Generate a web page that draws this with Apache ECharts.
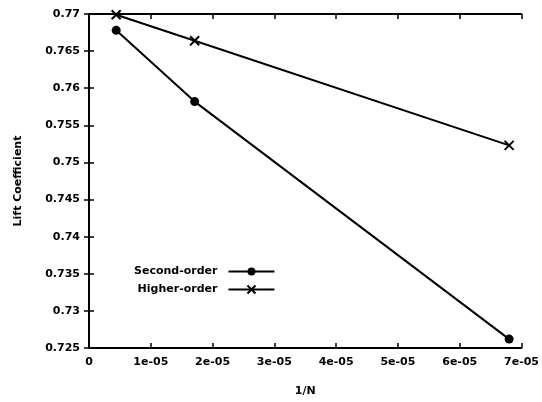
<!DOCTYPE html>
<html><head><meta charset="utf-8">
<script src="https://cdn.jsdelivr.net/npm/echarts@6/dist/echarts.min.js"></script>
<style>html,body{margin:0;padding:0;background:#fff}#c{width:542px;height:402px}</style>
</head><body><div id="c"></div>
<script>
var invN = [4.4e-6, 1.71e-5, 6.8e-5];
var secondOrder = [0.7678, 0.7582, 0.7262];
var higherOrder = [0.7699, 0.7664, 0.7523];
var xTickLabels = ['0','1e-05','2e-05','3e-05','4e-05','5e-05','6e-05','7e-05'];
var yTickLabels = ['0.725','0.73','0.735','0.74','0.745','0.75','0.755','0.76','0.765','0.77'];

var crossPath = 'path://M0,0 L10,10 M10,0 L0,10 M0,0 L10,10 Z';
function pts(ys){ return invN.map(function(x,i){return [x, ys[i]];}); }
var font = {fontFamily:'DejaVu Sans', fontSize:11, fontWeight:'bold', color:'#000'};
var chart = echarts.init(document.getElementById('c'));
var axLine = {show:true, lineStyle:{color:'#000', width:2}};
var tick = {show:true, inside:true, length:5, lineStyle:{color:'#000', width:1.5}};
chart.setOption({
  animation:false,
  grid:{left:89, right:20, top:14, bottom:54, containLabel:false},
  xAxis:[{
    type:'value', min:0, max:7e-5, interval:1e-5, position:'bottom',
    axisLine:axLine, axisTick:tick, splitLine:{show:false},
    axisLabel:Object.assign({margin:9, formatter:function(v){return xTickLabels[Math.round(v/1e-5)];}}, font),
    name:'1/N', nameLocation:'middle', nameGap:38, nameTextStyle:font
  },{
    type:'value', min:0, max:7e-5, interval:1e-5, position:'top',
    axisLine:axLine, axisTick:tick, splitLine:{show:false}, axisLabel:{show:false}
  }],
  yAxis:[{
    type:'value', min:0.725, max:0.77, interval:0.005, position:'left',
    axisLine:axLine, axisTick:tick, splitLine:{show:false},
    axisLabel:Object.assign({margin:9, formatter:function(v){return yTickLabels[Math.round((v-0.725)/0.005)];}}, font),
    name:'Lift Coefficient', nameLocation:'middle', nameGap:65, nameRotate:90, nameTextStyle:font
  },{
    type:'value', min:0.725, max:0.77, interval:0.005, position:'right',
    axisLine:axLine, axisTick:tick, splitLine:{show:false}, axisLabel:{show:false}
  }],
  legend:{
    orient:'vertical', left:129, top:261, align:'right', itemGap:7,
    itemWidth:46, itemHeight:10,
    textStyle:{fontFamily:'DejaVu Sans', fontSize:11, fontWeight:'bold', color:'#000', padding:[0,6,0,0]},
    data:['Second-order','Higher-order']
  },
  series:[{
    name:'Second-order', type:'line', data:pts(secondOrder),
    symbol:'circle', symbolSize:9, showSymbol:true,
    lineStyle:{color:'#000', width:2}, itemStyle:{color:'#000'}
  },{
    name:'Higher-order', type:'line', data:pts(higherOrder),
    symbol:crossPath, symbolSize:9, showSymbol:true,
    lineStyle:{color:'#000', width:2}, itemStyle:{color:'#000', borderColor:'#000', borderWidth:2}
  }]
});
</script></body></html>
